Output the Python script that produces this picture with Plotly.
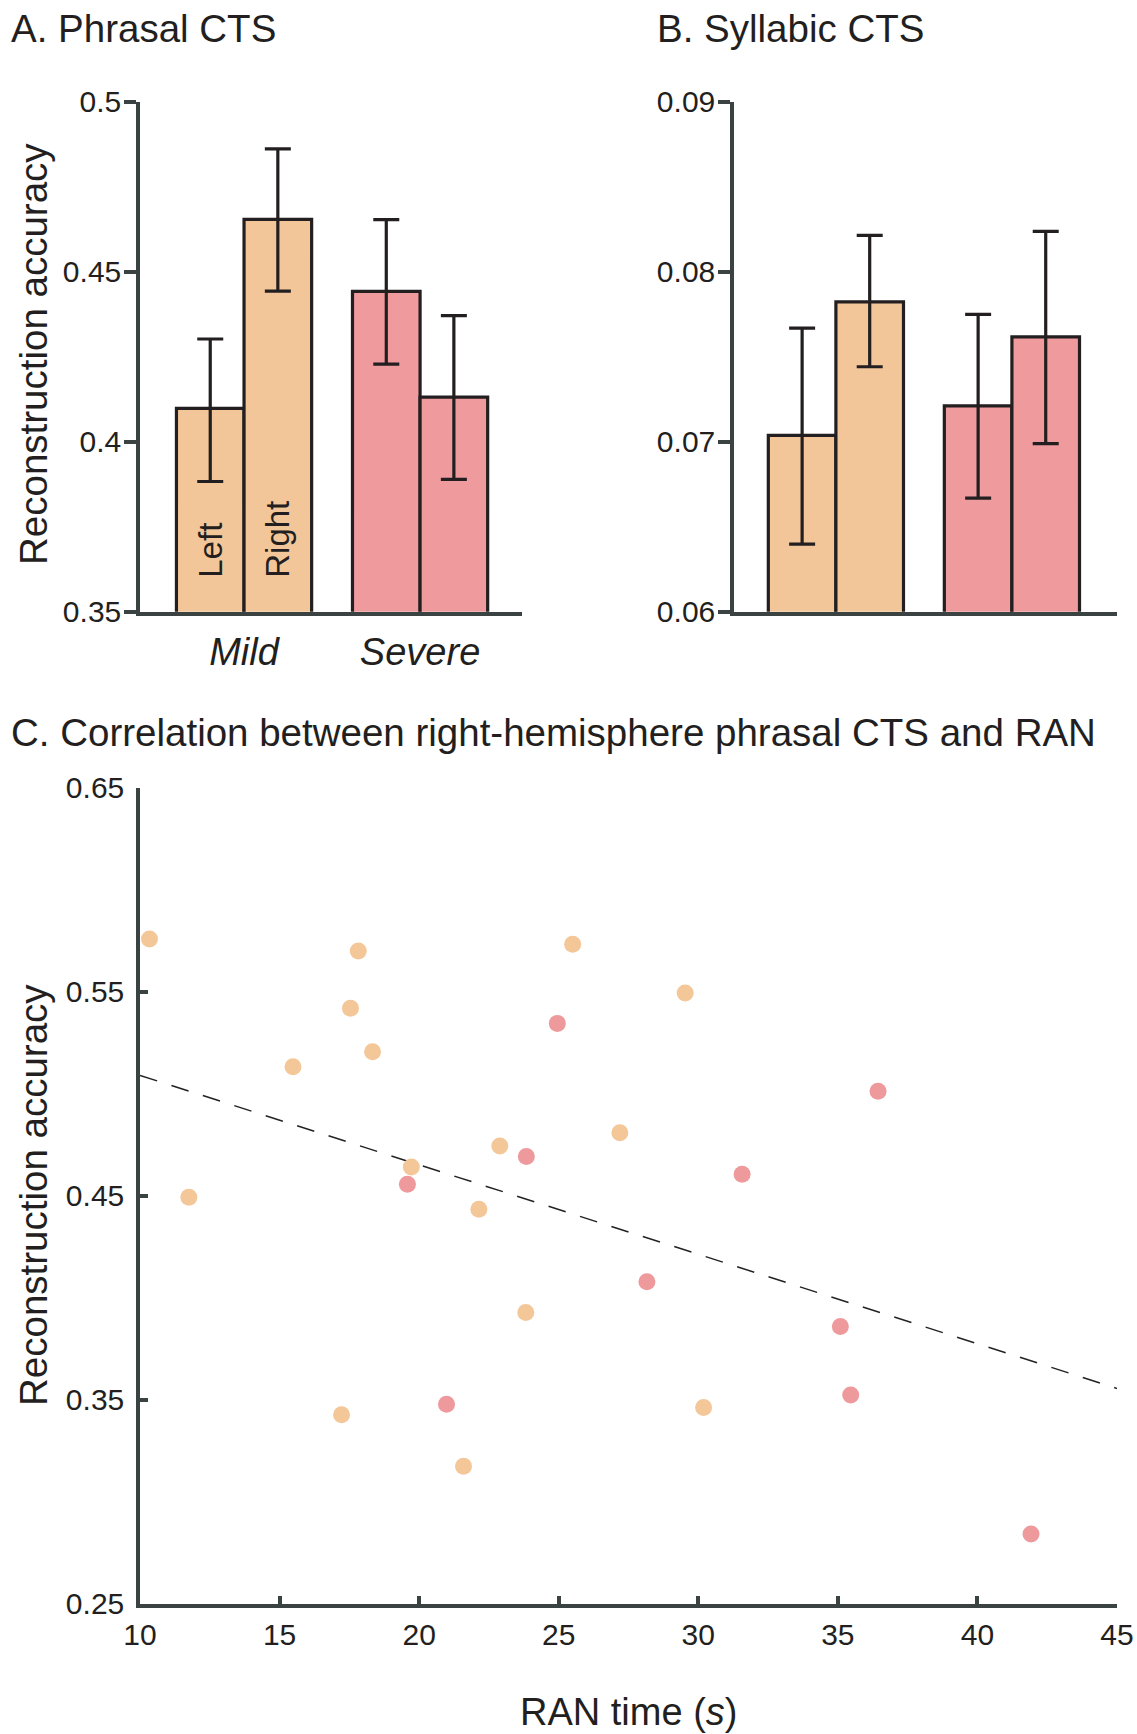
import plotly.graph_objects as go

# ---------------- data ----------------
groups = ["Mild", "Severe"]
group_colors = ["#F3C699", "#EF9A9C"]

phrasal_left = [0.4098, 0.4442]
phrasal_left_hi = [0.4302, 0.4653]
phrasal_left_lo = [0.3883, 0.4228]
phrasal_right = [0.4654, 0.4131]
phrasal_right_hi = [0.4861, 0.4371]
phrasal_right_lo = [0.4443, 0.3889]

syll_left = [0.07037, 0.07211]
syll_left_hi = [0.07668, 0.07749]
syll_left_lo = [0.06398, 0.06668]
syll_right = [0.07823, 0.07617]
syll_right_hi = [0.08214, 0.08237]
syll_right_lo = [0.07441, 0.06989]

mild_ran = [10.34, 11.75, 15.48, 17.22, 17.54, 17.82, 18.33, 19.72, 21.59,
            22.14, 22.89, 23.82, 25.50, 27.19, 29.53, 30.19]
mild_acc = [0.5757, 0.4492, 0.5131, 0.3426, 0.5418, 0.5699, 0.5205, 0.4640,
            0.3174, 0.4433, 0.4743, 0.3927, 0.5732, 0.4808, 0.5493, 0.3462]
severe_ran = [19.58, 20.98, 23.84, 24.95, 28.16, 31.57, 35.09, 35.46, 36.44, 41.92]
severe_acc = [0.4556, 0.3478, 0.4692, 0.5344, 0.4078, 0.4605, 0.3859, 0.3523,
              0.5011, 0.2842]
fit_x = [10, 45]
fit_y = [0.5089, 0.3555]

a_ticks = [0.35, 0.4, 0.45, 0.5]
a_ticktext = ["0.35", "0.4", "0.45", "0.5"]
b_ticks = [0.06, 0.07, 0.08, 0.09]
b_ticktext = ["0.06", "0.07", "0.08", "0.09"]
c_yticks = [0.25, 0.35, 0.45, 0.55, 0.65]
c_yticktext = ["0.25", "0.35", "0.45", "0.55", "0.65"]
c_xticks = [10, 15, 20, 25, 30, 35, 40, 45]

# ---------------- style ----------------
W, H = 1137, 1734
FONT = "Liberation Sans, Arial, Helvetica, sans-serif"
TXT = "#231f20"
AX = "#3b4242"
EDGE = "#231f20"


def px_x(p):
    return p / W


def px_y(p):
    return 1 - p / H


def bar(x, y, hi, lo, name, xa, ya):
    return go.Bar(
        x=x, y=y, name=name, xaxis=xa, yaxis=ya,
        marker=dict(color=group_colors, line=dict(color=EDGE, width=3.2)),
        error_y=dict(type="data", symmetric=False,
                     array=[h - v for h, v in zip(hi, y)],
                     arrayminus=[v - l for v, l in zip(y, lo)],
                     color=EDGE, thickness=3.2, width=13),
        showlegend=False, hoverinfo="skip",
    )


fig = go.Figure()
fig.add_trace(bar(groups, phrasal_left, phrasal_left_hi, phrasal_left_lo, "Left", "x", "y"))
fig.add_trace(bar(groups, phrasal_right, phrasal_right_hi, phrasal_right_lo, "Right", "x", "y"))
fig.add_trace(bar(groups, syll_left, syll_left_hi, syll_left_lo, "Left", "x2", "y2"))
fig.add_trace(bar(groups, syll_right, syll_right_hi, syll_right_lo, "Right", "x2", "y2"))

fig.add_trace(go.Scatter(x=fit_x, y=fit_y, mode="lines", xaxis="x3", yaxis="y3",
                         line=dict(color="#222222", width=1.5, dash="18px,15px"),
                         showlegend=False, hoverinfo="skip"))
fig.add_trace(go.Scatter(x=mild_ran, y=mild_acc, mode="markers", xaxis="x3", yaxis="y3",
                         marker=dict(color="#F4C799", size=17, line=dict(width=0)),
                         showlegend=False))
fig.add_trace(go.Scatter(x=severe_ran, y=severe_acc, mode="markers", xaxis="x3", yaxis="y3",
                         marker=dict(color="#EE999C", size=17, line=dict(width=0)),
                         showlegend=False))

axline = dict(showline=True, linecolor=AX, linewidth=3.5, showgrid=False, zeroline=False,
              tickfont=dict(family=FONT, size=30, color=TXT))

top_dom = [px_y(611.7), px_y(101.7)]

fig.update_layout(
    width=W, height=H, margin=dict(l=0, r=0, t=0, b=0),
    paper_bgcolor="white", plot_bgcolor="white", template="none",
    barmode="group", bargap=0.232, bargroupgap=0,
    font=dict(family=FONT, color=TXT),
    xaxis=dict(axline, domain=[px_x(140), px_x(522)], range=[-0.591, 1.579],
               type="category", ticks="", ticklabelstandoff=4,
               tickfont=dict(family=FONT, size=38, color=TXT, style="italic"),
               anchor="y"),
    yaxis=dict(axline, domain=top_dom, range=[0.35, 0.5], tickvals=a_ticks,
               ticktext=a_ticktext, ticks="outside", ticklen=12, tickwidth=3.5,
               tickcolor=AX, ticklabelstandoff=-3, anchor="x"),
    xaxis2=dict(axline, domain=[px_x(734), px_x(1117)], range=[-0.579, 1.597],
                type="category", ticks="", showticklabels=False, anchor="y2"),
    yaxis2=dict(axline, domain=top_dom, range=[0.06, 0.09], tickvals=b_ticks,
                ticktext=b_ticktext, ticks="outside", ticklen=12, tickwidth=3.5,
                tickcolor=AX, ticklabelstandoff=-3, anchor="x2"),
    xaxis3=dict(axline, domain=[px_x(140), px_x(1117)], range=[10, 45],
                tickvals=c_xticks, ticks="inside", ticklen=8, tickwidth=3.5,
                tickcolor=AX, ticklabelstandoff=2, anchor="y3"),
    yaxis3=dict(axline, domain=[px_y(1603.7), px_y(787.5)], range=[0.25, 0.65],
                tickvals=c_yticks, ticktext=c_yticktext, ticks="inside", ticklen=8,
                tickwidth=3.5, tickcolor=AX, ticklabelstandoff=6, anchor="x3"),
)

ann = []
title_font = dict(family=FONT, size=38.5, color=TXT)
ann.append(dict(text="A. Phrasal CTS", x=px_x(9), y=px_y(29), xref="paper", yref="paper",
                xanchor="left", yanchor="middle", showarrow=False, font=title_font))
ann.append(dict(text="B. Syllabic CTS", x=px_x(655), y=px_y(29), xref="paper", yref="paper",
                xanchor="left", yanchor="middle", showarrow=False, font=title_font))
ann.append(dict(text="C. Correlation between right-hemisphere phrasal CTS and RAN",
                x=px_x(9), y=px_y(732), xref="paper", yref="paper",
                xanchor="left", yanchor="middle", showarrow=False, font=title_font))
ann.append(dict(text="Reconstruction accuracy", x=px_x(33), y=px_y(354), xref="paper",
                yref="paper", xanchor="center", yanchor="middle", textangle=-90,
                showarrow=False, font=dict(family=FONT, size=38.5, color=TXT)))
ann.append(dict(text="Reconstruction accuracy", x=px_x(33), y=px_y(1195), xref="paper",
                yref="paper", xanchor="center", yanchor="middle", textangle=-90,
                showarrow=False, font=dict(family=FONT, size=38.5, color=TXT)))
ann.append(dict(text="RAN time (<i>s</i>)", x=px_x(628), y=px_y(1712), xref="paper",
                yref="paper", xanchor="center", yanchor="middle", showarrow=False,
                font=dict(family=FONT, size=38, color=TXT)))
ann.append(dict(text="Left", x=-0.192, y=0.368, xref="x", yref="y", xanchor="center",
                yanchor="middle", textangle=-90, showarrow=False,
                font=dict(family=FONT, size=33, color=TXT)))
ann.append(dict(text="Right", x=0.192, y=0.3714, xref="x", yref="y", xanchor="center",
                yanchor="middle", textangle=-90, showarrow=False,
                font=dict(family=FONT, size=33, color=TXT)))
fig.update_layout(annotations=ann)

fig.write_html("out.html")
